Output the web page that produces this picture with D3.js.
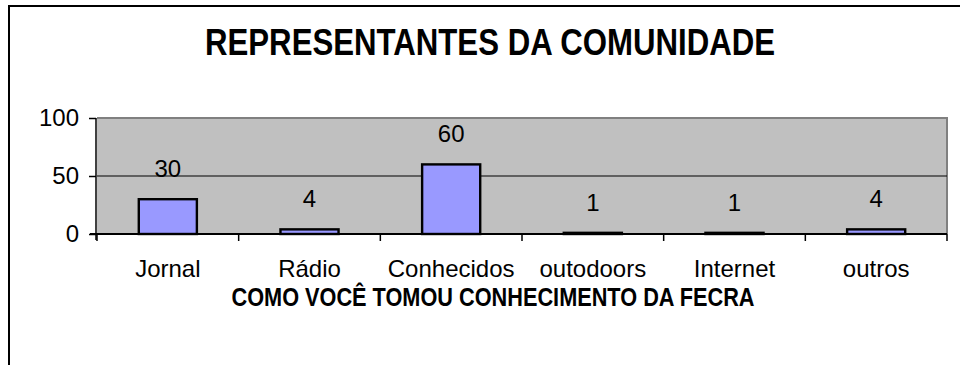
<!DOCTYPE html>
<html>
<head>
<meta charset="utf-8">
<script src="https://cdn.jsdelivr.net/npm/d3@7"></script>
<style>
  html, body { margin: 0; padding: 0; background: #fff; }
  svg { display: block; }
  text { font-family: "Liberation Sans", Arial, sans-serif; fill: #000; }
</style>
</head>
<body>
<svg id="chart" width="960" height="365"></svg>
<script>
// Data
const categories = ["Jornal", "Rádio", "Conhecidos", "outodoors", "Internet", "outros"];
const values = [30, 4, 60, 1, 1, 4];
const yTicks = [0, 50, 100];
const chartTitle = "REPRESENTANTES DA COMUNIDADE";
const xTitle = "COMO VOCÊ TOMOU CONHECIMENTO DA FECRA";

const svg = d3.select("#chart");
const plot = { left: 97, right: 947, top: 118, bottom: 234 };

// Outer frame (top and left edges)
svg.append("path")
  .attr("d", `M9,365 V6 H960`)
  .attr("fill", "none")
  .attr("stroke", "#000")
  .attr("stroke-width", 2);

// Scales
const x = d3.scaleBand()
  .domain(categories)
  .range([plot.left, plot.right])
  .paddingInner(0.59)
  .paddingOuter(0.295);

const y = d3.scaleLinear()
  .domain([0, 100])
  .range([plot.bottom, plot.top]);

// Plot area background
svg.append("rect")
  .attr("x", plot.left)
  .attr("y", plot.top)
  .attr("width", plot.right - plot.left)
  .attr("height", plot.bottom - plot.top)
  .attr("fill", "#C0C0C0");

// Gray border on top and right of plot area
svg.append("path")
  .attr("d", `M${plot.left},${plot.top} H${plot.right} V${plot.bottom}`)
  .attr("fill", "none")
  .attr("stroke", "#808080")
  .attr("stroke-width", 2);

// Gridlines
svg.append("g")
  .selectAll("line")
  .data(yTicks.filter(d => d > 0 && d < 100))
  .join("line")
  .attr("x1", plot.left)
  .attr("x2", plot.right)
  .attr("y1", d => y(d))
  .attr("y2", d => y(d))
  .attr("stroke", "#000")
  .attr("stroke-width", 1);

// Bars
svg.append("g")
  .selectAll("rect")
  .data(values)
  .join("rect")
  .attr("x", (d, i) => x(categories[i]))
  .attr("y", d => y(d))
  .attr("width", x.bandwidth())
  .attr("height", d => y(0) - y(d))
  .attr("fill", "#9999FF")
  .attr("stroke", "#000")
  .attr("stroke-width", 2.4);

// Value labels
svg.append("g")
  .selectAll("text")
  .data(values)
  .join("text")
  .attr("x", (d, i) => x(categories[i]) + x.bandwidth() / 2)
  .attr("y", d => y(d) - 22)
  .attr("text-anchor", "middle")
  .style("font-size", "24px")
  .text(d => d);

// Y axis
const yAxis = svg.append("g")
  .attr("transform", `translate(${plot.left - 1},0)`)
  .call(d3.axisLeft(y).tickValues(yTicks).tickSize(7).tickPadding(10).tickSizeOuter(0));
yAxis.select(".domain").attr("stroke", "#000").attr("stroke-width", 1.5)
  .attr("d", `M0,${plot.top}V${plot.bottom + 6}`);
yAxis.selectAll(".tick line").attr("stroke", "#000").attr("stroke-width", 1.5);
yAxis.selectAll(".tick text")
  .style("font-size", "24px")
  .style("font-family", "'Liberation Sans', Arial, sans-serif")
  .attr("fill", "#000");

// X axis: category boundaries carry the tick marks
const bounds = d3.range(categories.length + 1).map(i => plot.left + i * x.step());
const xAxis = svg.append("g");
xAxis.append("line")
  .attr("x1", plot.left - 7)
  .attr("x2", plot.right)
  .attr("y1", plot.bottom)
  .attr("y2", plot.bottom)
  .attr("stroke", "#000")
  .attr("stroke-width", 2);
xAxis.selectAll("line.tk")
  .data(bounds)
  .join("line")
  .attr("class", "tk")
  .attr("x1", d => d)
  .attr("x2", d => d)
  .attr("y1", plot.bottom)
  .attr("y2", plot.bottom + 7)
  .attr("stroke", "#000")
  .attr("stroke-width", 1.5);
xAxis.selectAll("text")
  .data(categories)
  .join("text")
  .attr("x", d => x(d) + x.bandwidth() / 2)
  .attr("y", plot.bottom + 43)
  .attr("text-anchor", "middle")
  .style("font-size", "24px")
  .text(d => d);

// Titles
svg.append("text")
  .attr("x", 490)
  .attr("y", 55)
  .attr("text-anchor", "middle")
  .attr("textLength", 570)
  .attr("lengthAdjust", "spacingAndGlyphs")
  .style("font-size", "36px")
  .style("font-weight", "bold")
  .text(chartTitle);

svg.append("text")
  .attr("x", 493)
  .attr("y", 306)
  .attr("text-anchor", "middle")
  .attr("textLength", 523)
  .attr("lengthAdjust", "spacingAndGlyphs")
  .style("font-size", "25px")
  .style("font-weight", "bold")
  .text(xTitle);
</script>
</body>
</html>
